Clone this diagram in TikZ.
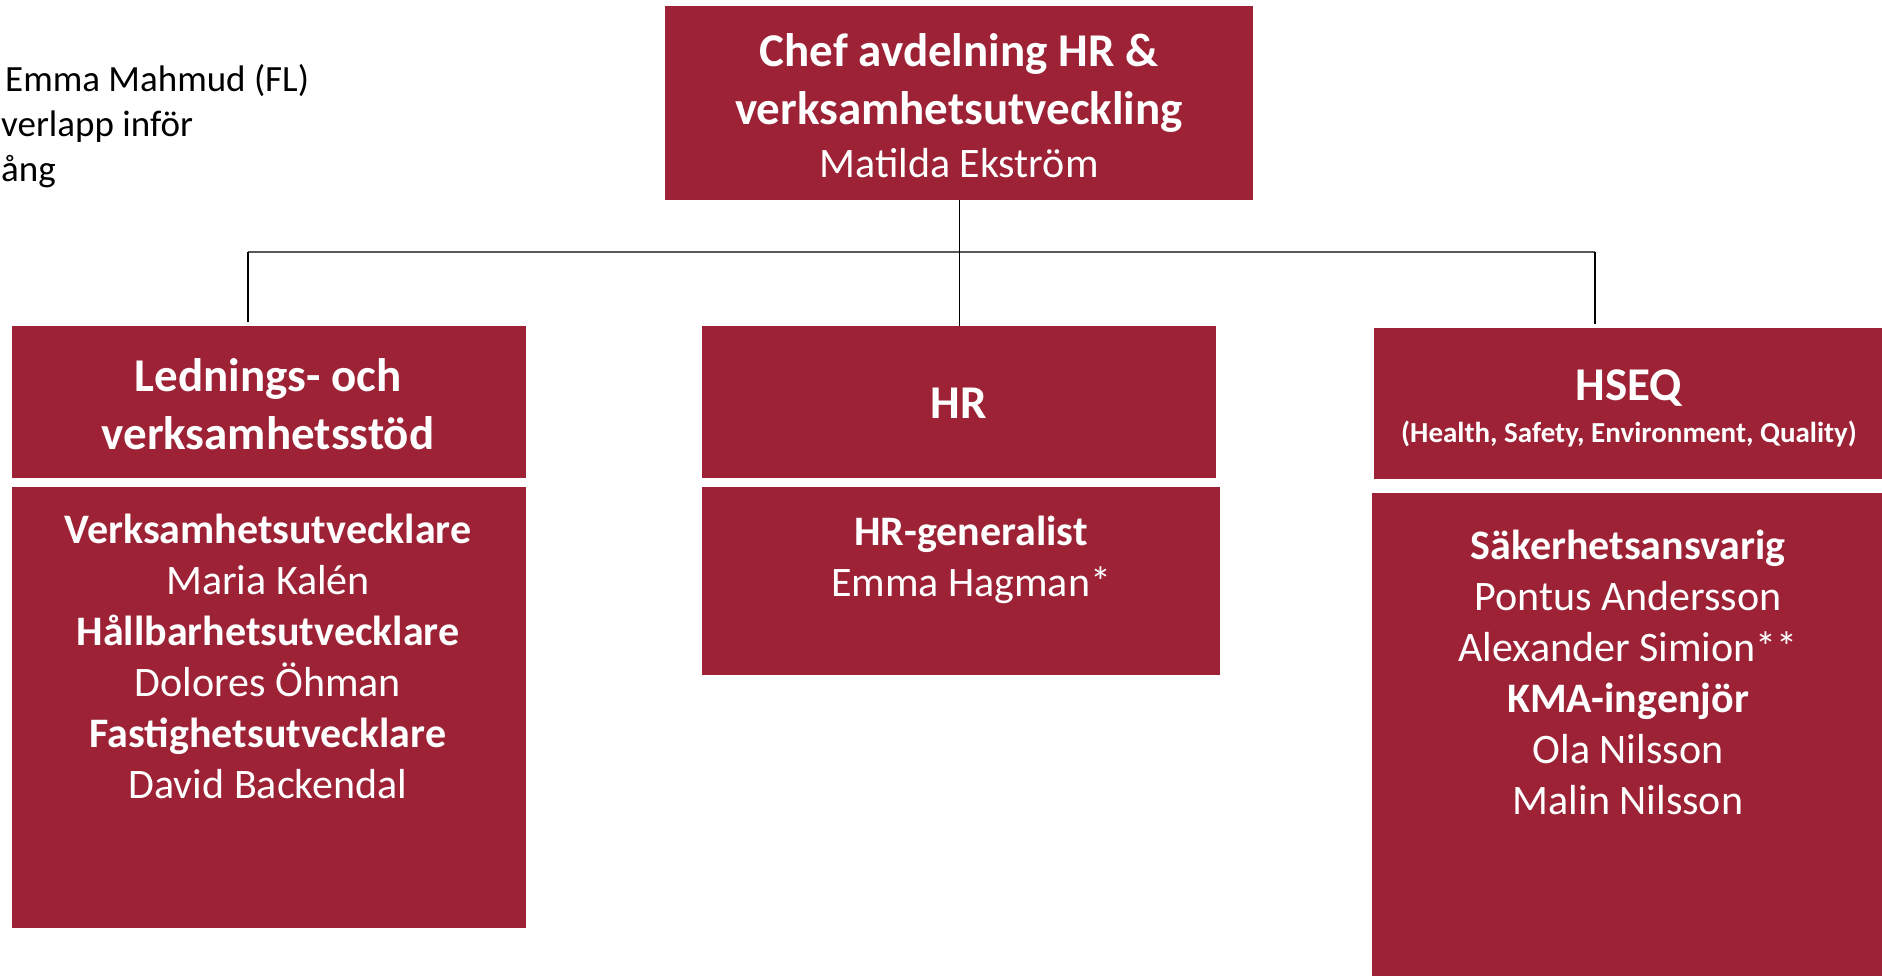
\documentclass[tikz,border=0pt]{standalone}
\usepackage{fontspec}
\setmainfont{Carlito}
\usetikzlibrary{positioning}
\definecolor{hrred}{RGB}{157,34,54}
\definecolor{busgray}{RGB}{89,89,89}
\tikzset{
  unitbox/.style={fill=hrred, draw=none, inner sep=0pt, anchor=north west},
  boxtext/.style={text=white, align=center, inner sep=0pt, anchor=base},
  headtext/.style={boxtext, font=\fontsize{47}{58}\selectfont\bfseries},
  bodytext/.style={boxtext, font=\fontsize{42}{51}\selectfont},
  wire/.style={line width=1.3pt, black},
  bus/.style={line width=2pt, busgray},
}
\begin{document}
\begin{tikzpicture}[x=1pt,y=-1pt]
\useasboundingbox (0,0) rectangle (1882,976);
% boxes
\node[unitbox, minimum width=588pt, minimum height=194pt] (chef) at (665,6) {};
\node[unitbox, minimum width=514pt, minimum height=152pt] (ledhead) at (12,326) {};
\node[unitbox, minimum width=514pt, minimum height=441pt] (ledbody) at (12,487) {};
\node[unitbox, minimum width=514pt, minimum height=152pt] (hrhead) at (702,326) {};
\node[unitbox, minimum width=518pt, minimum height=188pt] (hrbody) at (702,487) {};
\node[unitbox, minimum width=508pt, minimum height=151pt] (hseqhead) at (1374,328) {};
\node[unitbox, minimum width=510pt, minimum height=483pt] (hseqbody) at (1372,493) {};
% texts (placed by the baseline of their last line)
\node[headtext] (cheftxt) at (959,178) {Chef avdelning HR \&\\ verksamhetsutveckling\\[-5pt]
  {\fontsize{42}{51}\selectfont\mdseries Matilda Ekström}};
\node[headtext] (ledheadtxt) at (268,449) {Lednings- och\\ verksamhetsstöd};
\node[headtext] (hrheadtxt) at (959,418) {HR};
\node[headtext, font=\fontsize{47}{42}\selectfont\bfseries] (hseqheadtxt) at (1629,442)
  {HSEQ\\ {\fontsize{29}{42}\selectfont (Health, Safety, Environment, Quality)}};
\node[bodytext] (ledbodytxt) at (268,798) {\textbf{Verksamhetsutvecklare}\\ Maria Kalén\\
  \textbf{Hållbarhetsutvecklare}\\ Dolores Öhman\\ \textbf{Fastighetsutvecklare}\\ David Backendal};
\node[bodytext] (hrbodytxt) at (971,596) {\textbf{HR-generalist}\\ Emma Hagman*};
\node[bodytext] (hseqbodytxt) at (1628,814) {\textbf{Säkerhetsansvarig}\\ Pontus Andersson\\
  Alexander Simion**\\ \textbf{KMA-ingenjör}\\ Ola Nilsson\\ Malin Nilsson};
\node[align=left, anchor=base west, inner sep=0pt, font=\fontsize{37}{45}\selectfont] (note) at (1,182)
  {\hspace{4pt}Emma Mahmud (FL)\\ verlapp inför\\ ång};
% connectors
\coordinate (busL) at (248,252);
\coordinate (busR) at (1595,252);
\coordinate (leddrop) at (248,322);
\coordinate (hseqdrop) at (1595,324);
\draw[bus] (busL) -- (busR);
\draw[wire] (chef.south) -- (hrhead.north);
\draw[wire] (busL) -- (leddrop);
\draw[wire] (busR) -- (hseqdrop);
\end{tikzpicture}
\end{document}
